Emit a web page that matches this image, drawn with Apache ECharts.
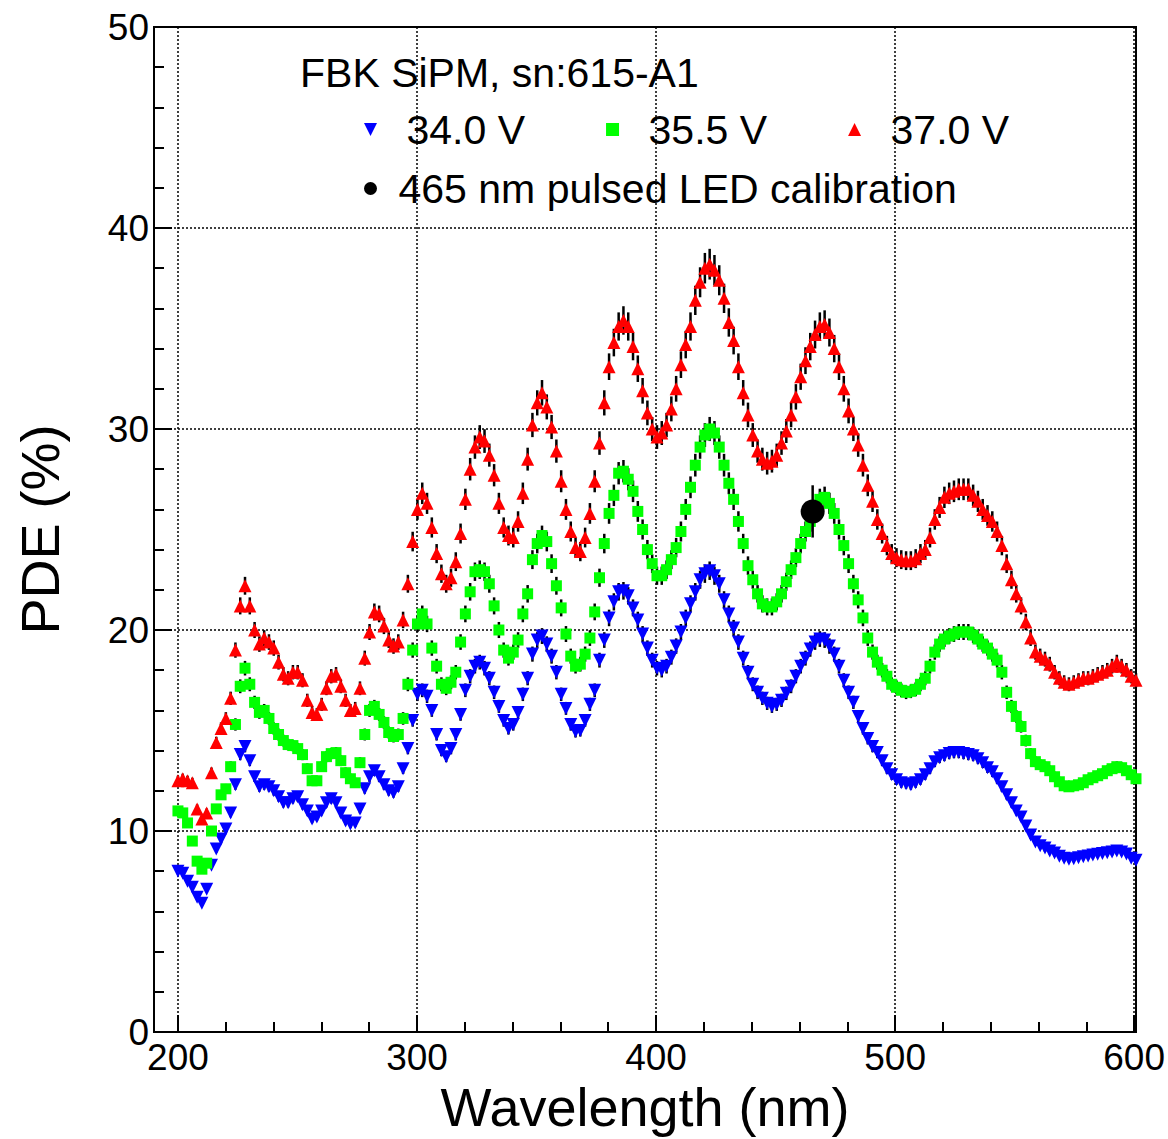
<!DOCTYPE html>
<html>
<head>
<meta charset="utf-8">
<script src="https://cdn.jsdelivr.net/npm/echarts@6/dist/echarts.min.js"></script>
<style>
html,body{margin:0;padding:0;background:#fff;}
#chart{width:1168px;height:1139px;}
</style>
</head>
<body>
<div id="chart"></div>
<script>
// ---- data ----
const wavelengths = [
  200,202,204,206,208,210,212,214,216,218,
  220,222,224,226,228,230,232,234,236,238,
  240,242,244,246,248,250,252,254,256,258,
  260,262,264,266,268,270,272,274,276,278,
  280,282,284,286,288,290,292,294,296,298,
  300,302,304,306,308,310,312,314,316,318,
  320,322,324,326,328,330,332,334,336,338,
  340,342,344,346,348,350,352,354,356,358,
  360,362,364,366,368,370,372,374,376,378,
  380,382,384,386,388,390,392,394,396,398,
  400,402,404,406,408,410,412,414,416,418,
  420,422,424,426,428,430,432,434,436,438,
  440,442,444,446,448,450,452,454,456,458,
  460,462,464,466,468,470,472,474,476,478,
  480,482,484,486,488,490,492,494,496,498,
  500,502,504,506,508,510,512,514,516,518,
  520,522,524,526,528,530,532,534,536,538,
  540,542,544,546,548,550,552,554,556,558,
  560,562,564,566,568,570,572,574,576,578,
  580,582,584,586,588,590,592,594,596,598,
  600
];

const pde34V = [
  8.0, 7.9, 7.5, 7.2, 6.7, 6.4, 7.1, 8.3, 9.1, 9.6,
  10.1, 10.9, 12.3, 13.8, 14.2, 13.5, 12.7, 12.2, 12.3, 12.2,
  12.0, 11.7, 11.4, 11.4, 11.6, 11.7, 11.3, 11.0, 10.6, 10.7,
  11.0, 11.4, 11.6, 11.4, 10.9, 10.5, 10.35, 10.4, 11.1, 12.1,
  12.7, 13.0, 12.7, 12.3, 12.0, 11.9, 12.2, 13.1, 14.1, 15.5,
  16.8, 17.0, 16.7, 16.0, 14.8, 14.0, 13.7, 14.1, 14.8, 15.8,
  17.0, 17.7, 18.2, 18.4, 18.1, 17.6, 16.9, 16.2, 15.5, 15.1,
  15.3, 15.9, 16.8, 17.6, 18.8, 19.5, 19.7, 19.3, 18.7, 17.9,
  16.8, 16.1, 15.3, 14.95, 15.0, 15.5, 16.3, 17.0, 18.5, 19.5,
  20.6, 21.4, 21.9, 21.95, 21.7, 21.1, 20.5, 19.8, 19.1, 18.5,
  18.1, 18.0, 18.2, 18.65, 19.2, 19.9, 20.6, 21.3, 21.9, 22.5,
  22.8, 22.95, 22.7, 22.3, 21.5, 20.8, 20.1, 19.4, 18.6, 17.9,
  17.3, 16.9, 16.6, 16.35, 16.2, 16.3, 16.5, 16.85, 17.2, 17.7,
  18.2, 18.6, 19.05, 19.4, 19.55, 19.5, 19.2, 18.8, 18.2, 17.5,
  16.9, 16.4, 15.7, 15.1, 14.6, 14.2, 13.9, 13.5, 13.1, 12.8,
  12.55, 12.4, 12.35, 12.3, 12.4, 12.55, 12.8, 13.1, 13.45, 13.65,
  13.75, 13.85, 13.9, 13.9, 13.85, 13.8, 13.75, 13.6, 13.4, 13.15,
  12.95, 12.6, 12.2, 11.8, 11.4, 11.0, 10.7, 10.25, 9.8, 9.45,
  9.27, 9.15, 9.0, 8.9, 8.75, 8.65, 8.6, 8.62, 8.67, 8.72,
  8.76, 8.8, 8.84, 8.88, 8.92, 8.96, 9.0, 8.95, 8.86, 8.65,
  8.55
];

const pde35_5V = [
  11.0, 10.9, 10.4, 9.5, 8.5, 8.1, 8.4, 10.0, 11.1, 11.8,
  12.1, 13.2, 15.3, 17.2, 18.1, 17.3, 16.4, 15.9, 16.0, 15.6,
  15.1, 14.8, 14.5, 14.3, 14.25, 14.1, 13.8, 13.1, 12.5, 12.5,
  13.2, 13.7, 13.85, 13.9, 13.5, 12.9, 12.6, 12.4, 13.4, 14.8,
  16.0, 16.2, 15.8, 15.4, 14.9, 14.7, 14.8, 15.6, 17.3, 19.0,
  20.3, 20.8, 20.3, 19.1, 18.2, 17.3, 17.1, 17.4, 17.9, 19.4,
  20.8, 21.9, 22.9, 23.0, 22.9, 22.3, 21.2, 20.0, 19.0, 18.6,
  18.9, 19.5, 20.8, 21.8, 23.5, 24.3, 24.7, 24.4, 23.3, 22.2,
  21.1, 19.8, 18.7, 18.2, 18.3, 18.8, 19.6, 20.9, 22.6, 24.3,
  25.8, 26.7, 27.8, 27.9, 27.5, 26.9, 25.9, 25.0, 24.0, 23.3,
  22.7, 22.7, 23.0, 23.5, 24.1, 24.9, 26.0, 27.1, 28.2, 29.1,
  29.7, 30.0, 29.8, 29.1, 28.2, 27.3, 26.5, 25.4, 24.3, 23.2,
  22.5, 21.8, 21.3, 21.15, 21.15, 21.4, 21.8, 22.4, 23.0, 23.6,
  24.3, 24.9, 25.4, 25.85, 26.5, 26.6, 26.3, 25.8, 25.0, 24.2,
  23.3, 22.3, 21.5, 20.6, 19.6, 18.9, 18.4, 18.0, 17.7, 17.3,
  17.15, 17.0, 16.9, 16.95, 17.05, 17.3, 17.6, 18.2, 18.9, 19.3,
  19.55, 19.7, 19.8, 19.9, 19.9, 19.9, 19.75, 19.55, 19.3, 19.1,
  18.8, 18.5, 17.9, 16.9, 16.2, 15.7, 15.2, 14.5, 13.85, 13.45,
  13.3, 13.2, 13.0, 12.7, 12.45, 12.25, 12.2, 12.25, 12.3, 12.4,
  12.55, 12.65, 12.75, 12.85, 13.0, 13.1, 13.2, 13.15, 13.0, 12.8,
  12.6
];

const pde37V = [
  12.5, 12.6, 12.5, 12.4, 11.1, 10.6, 10.9, 12.9, 14.4, 15.1,
  15.6, 16.6, 19.0, 21.2, 22.2, 21.2, 20.0, 19.3, 19.6, 19.4,
  19.1, 18.4, 17.8, 17.6, 17.9, 17.9, 17.5, 16.5, 15.9, 15.8,
  16.3, 17.1, 17.7, 17.8, 17.2, 16.5, 16.0, 16.1, 17.1, 18.6,
  19.9, 20.9, 20.8, 20.2, 19.5, 19.2, 19.4, 20.5, 22.3, 24.4,
  26.0, 26.8, 26.3, 25.1, 23.8, 22.8, 22.3, 22.6, 23.4, 24.8,
  26.5, 28.0, 29.1, 29.6, 29.4, 28.7, 27.7, 26.3, 25.1, 24.7,
  24.6, 25.4, 26.8, 28.5, 30.2, 31.3, 31.8, 31.1, 30.1, 28.9,
  27.4, 26.0, 24.9, 24.1, 23.9, 24.6, 25.8, 27.4, 29.3, 31.3,
  33.1, 34.3, 35.1, 35.4, 35.1, 34.1, 33.0, 31.9, 30.8, 30.0,
  29.6, 29.8, 30.2, 31.0, 32.0, 33.2, 34.2, 35.1, 36.4, 37.3,
  38.0, 38.2, 37.9, 37.4, 36.5, 35.3, 34.4, 33.1, 31.8, 30.7,
  29.7, 28.9, 28.5, 28.3, 28.4, 28.7, 29.3, 29.9, 30.7, 31.6,
  32.6, 33.4, 34.1, 34.7, 35.1, 35.2, 34.8, 34.0, 33.1, 32.0,
  30.9, 30.0, 29.2, 28.2, 27.2, 26.4, 25.5, 24.8, 24.2, 23.8,
  23.6, 23.5, 23.45, 23.45, 23.55, 23.8, 24.0, 24.6, 25.5, 26.1,
  26.6, 26.8, 26.9, 27.0, 27.0, 27.0, 26.7, 26.4, 26.0, 25.7,
  25.4, 24.9, 24.2, 23.3, 22.5, 21.8, 21.2, 20.4, 19.6, 18.9,
  18.7, 18.55, 18.3, 17.9, 17.6, 17.4, 17.3, 17.4, 17.5, 17.6,
  17.6, 17.7, 17.8, 17.9, 18.0, 18.2, 18.4, 18.2, 18.0, 17.7,
  17.5
];

// estimated relative size of the black error bars seen on the points
const errorFraction = 0.02;

// LED calibration point
const ledWavelength = [465];
const ledPDE = [25.9];
const ledError = [1.3];

const seriesNames = ['34.0 V', '35.5 V', '37.0 V'];
const ledName = '465 nm pulsed LED calibration';
const chartTitle = 'FBK SiPM, sn:615-A1';
const xTitle = 'Wavelength (nm)';
const yTitle = 'PDE (%)';

// ---- chart ----
const FONT = '"Liberation Sans", Arial, Helvetica, sans-serif';
const SYM_DOWN = 'path://M0,0L10,0L5,10Z';
const SYM_UP = 'path://M5,0L10,10L0,10Z';
const SYM_SQUARE = 'path://M0,0L10,0L10,10L0,10Z';
const SYM_CIRCLE = 'path://M5,0A5,5,0,1,1,5,10A5,5,0,1,1,5,0Z';

function points(vals) { return wavelengths.map((w, i) => [w, vals[i]]); }
function errorPoints(vals) { return wavelengths.map((w, i) => [w, vals[i], vals[i] * errorFraction]); }

function renderErrorBar(params, api) {
  const x = api.value(0), y = api.value(1), e = api.value(2);
  const top = api.coord([x, y + e]);
  const bot = api.coord([x, y - e]);
  return {
    type: 'line',
    shape: { x1: top[0], y1: top[1], x2: bot[0], y2: bot[1] },
    style: { stroke: '#000', lineWidth: 2.5 }
  };
}

function errorSeries(vals) {
  return {
    type: 'custom', xAxisIndex: 0, yAxisIndex: 0,
    renderItem: renderErrorBar,
    encode: { x: 0, y: 1 },
    data: errorPoints(vals),
    z: 2, silent: true
  };
}

const chart = echarts.init(document.getElementById('chart'), null, { renderer: 'svg' });

const gridLine = { color: '#000', width: 1.5, type: [2, 2] };

chart.setOption({
  animation: false,
  backgroundColor: '#fff',
  textStyle: { fontFamily: FONT },
  title: {
    text: chartTitle, left: 295, top: 47,
    textStyle: { fontSize: 41, fontWeight: 'normal', color: '#000', fontFamily: FONT }
  },
  legend: [
    {
      data: [
        { name: seriesNames[0], icon: SYM_DOWN },
        { name: seriesNames[1], icon: SYM_SQUARE },
        { name: seriesNames[2], icon: SYM_UP }
      ],
      left: 359, top: 104, itemWidth: 62, itemHeight: 13, itemGap: 81,
      selectedMode: false,
      textStyle: { fontSize: 41, color: '#000', fontFamily: FONT }
    },
    {
      data: [{ name: ledName, icon: SYM_CIRCLE }],
      left: 359, top: 163, itemWidth: 46, itemHeight: 13,
      selectedMode: false,
      textStyle: { fontSize: 41, color: '#000', fontFamily: FONT }
    }
  ],
  grid: [
    { left: 154, right: 32, top: 27, bottom: 106, show: true, borderColor: '#000', borderWidth: 2, backgroundColor: 'transparent' },
    { left: 177.95, right: 32, top: 27, bottom: 106 }
  ],
  xAxis: [
    {
      gridIndex: 0, type: 'value', min: 190, max: 600,
      axisLine: { show: true, onZero: false, lineStyle: { color: '#000', width: 2 } },
      axisTick: { show: false }, axisLabel: { show: false }, splitLine: { show: false },
      name: xTitle, nameLocation: 'middle', nameGap: 48,
      nameTextStyle: { fontSize: 54, color: '#000', fontFamily: FONT }
    },
    {
      gridIndex: 1, type: 'value', min: 200, max: 600, interval: 100,
      axisLine: { show: false, onZero: false },
      axisTick: { show: true, inside: true, length: 18, lineStyle: { color: '#000', width: 2 } },
      minorTick: { show: true, splitNumber: 5, length: 11, lineStyle: { color: '#000', width: 2 } },
      axisLabel: { fontSize: 37, color: '#000', margin: 6, fontFamily: FONT },
      splitLine: { show: true, lineStyle: gridLine },
      minorSplitLine: { show: false }
    }
  ],
  yAxis: [
    {
      gridIndex: 0, type: 'value', min: 0, max: 50, interval: 10,
      axisLine: { show: true, onZero: false, lineStyle: { color: '#000', width: 2 } },
      axisTick: { show: true, inside: true, length: 18, lineStyle: { color: '#000', width: 2 } },
      minorTick: { show: true, splitNumber: 5, length: 10, lineStyle: { color: '#000', width: 2 } },
      axisLabel: { fontSize: 37, color: '#000', margin: 5, fontFamily: FONT },
      splitLine: { show: true, lineStyle: gridLine },
      name: yTitle, nameLocation: 'middle', nameGap: 87, nameRotate: 90,
      nameTextStyle: { fontSize: 54, color: '#000', fontFamily: FONT }
    },
    { gridIndex: 1, type: 'value', min: 0, max: 50, show: false }
  ],
  series: [
    errorSeries(pde34V),
    errorSeries(pde35_5V),
    errorSeries(pde37V),
    {
      name: seriesNames[0], type: 'scatter', xAxisIndex: 0, yAxisIndex: 0,
      symbol: SYM_DOWN, symbolSize: 13, itemStyle: { color: '#0000ff', opacity: 1 },
      data: points(pde34V), z: 3
    },
    {
      name: seriesNames[1], type: 'scatter', xAxisIndex: 0, yAxisIndex: 0,
      symbol: SYM_SQUARE, symbolSize: 11, itemStyle: { color: '#00ff00', opacity: 1 },
      data: points(pde35_5V), z: 3
    },
    {
      name: seriesNames[2], type: 'scatter', xAxisIndex: 0, yAxisIndex: 0,
      symbol: SYM_UP, symbolSize: 13, itemStyle: { color: '#ff0000', opacity: 1 },
      data: points(pde37V), z: 3
    },
    {
      type: 'custom', xAxisIndex: 0, yAxisIndex: 0,
      renderItem: renderErrorBar, encode: { x: 0, y: 1 },
      data: ledWavelength.map((w, i) => [w, ledPDE[i], ledError[i]]),
      z: 4, silent: true
    },
    {
      name: ledName, type: 'scatter', xAxisIndex: 0, yAxisIndex: 0,
      symbol: SYM_CIRCLE, symbolSize: 24, itemStyle: { color: '#000', opacity: 1 },
      data: ledWavelength.map((w, i) => [w, ledPDE[i]]), z: 5
    }
  ]
});
</script>
</body>
</html>
